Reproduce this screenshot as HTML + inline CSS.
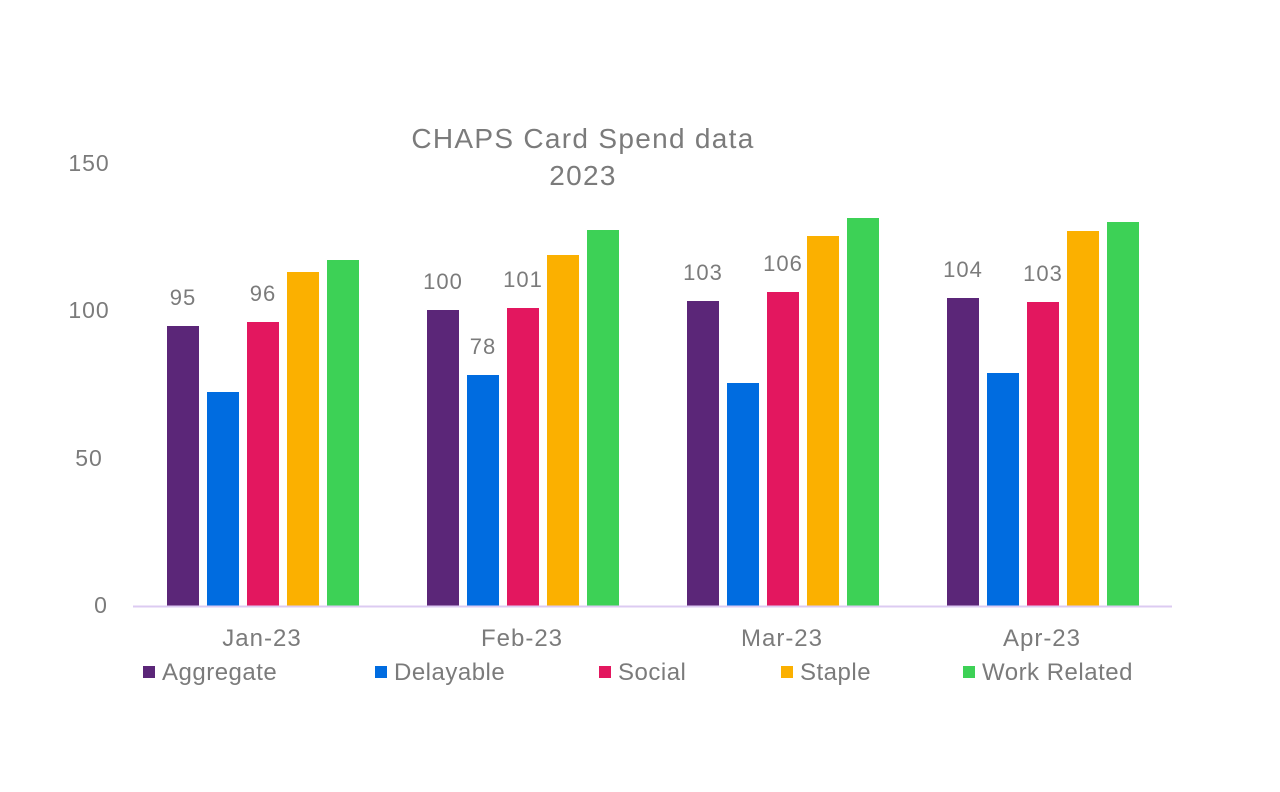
<!DOCTYPE html>
<html><head><meta charset="utf-8"><style>
body{margin:0;background:#fff;}
svg text{font-family:"Liberation Sans",sans-serif;fill:#7b7b7b;}
</style></head><body>
<svg width="1280" height="787" xmlns="http://www.w3.org/2000/svg">
<rect width="1280" height="787" fill="#fff"/>
<text x="583" y="148" font-size="28" letter-spacing="1.3" text-anchor="middle">CHAPS Card Spend data</text>
<text x="583" y="185" font-size="28" letter-spacing="1.3" text-anchor="middle">2023</text>
<g font-size="23" letter-spacing="1" text-anchor="middle">
<text x="89" y="171">150</text>
<text x="89" y="318">100</text>
<text x="89" y="466">50</text>
<text x="101" y="613">0</text>
</g>
<g>
<rect x="167" y="326" width="32" height="280" fill="#5b2678"/>
<rect x="207" y="392" width="32" height="214" fill="#006ce0"/>
<rect x="247" y="322" width="32" height="284" fill="#e3175f"/>
<rect x="287" y="272" width="32" height="334" fill="#fbb000"/>
<rect x="327" y="260" width="32" height="346" fill="#3dd156"/>
<rect x="427" y="310" width="32" height="296" fill="#5b2678"/>
<rect x="467" y="375" width="32" height="231" fill="#006ce0"/>
<rect x="507" y="308" width="32" height="298" fill="#e3175f"/>
<rect x="547" y="255" width="32" height="351" fill="#fbb000"/>
<rect x="587" y="230" width="32" height="376" fill="#3dd156"/>
<rect x="687" y="301" width="32" height="305" fill="#5b2678"/>
<rect x="727" y="383" width="32" height="223" fill="#006ce0"/>
<rect x="767" y="292" width="32" height="314" fill="#e3175f"/>
<rect x="807" y="236" width="32" height="370" fill="#fbb000"/>
<rect x="847" y="218" width="32" height="388" fill="#3dd156"/>
<rect x="947" y="298" width="32" height="308" fill="#5b2678"/>
<rect x="987" y="373" width="32" height="233" fill="#006ce0"/>
<rect x="1027" y="302" width="32" height="304" fill="#e3175f"/>
<rect x="1067" y="231" width="32" height="375" fill="#fbb000"/>
<rect x="1107" y="222" width="32" height="384" fill="#3dd156"/>
</g>
<line x1="133" y1="606.5" x2="1172" y2="606.5" stroke="#dccbf2" stroke-width="2"/>
<g font-size="22" letter-spacing="1" text-anchor="middle">
<text x="183" y="305">95</text>
<text x="263" y="301">96</text>
<text x="443" y="289">100</text>
<text x="483" y="354">78</text>
<text x="523" y="287">101</text>
<text x="703" y="280">103</text>
<text x="783" y="271">106</text>
<text x="963" y="277">104</text>
<text x="1043" y="281">103</text>
</g>
<g font-size="24" letter-spacing="1" text-anchor="middle">
<text x="262" y="646">Jan-23</text>
<text x="522" y="646">Feb-23</text>
<text x="782" y="646">Mar-23</text>
<text x="1042" y="646">Apr-23</text>
</g>
<g font-size="24" letter-spacing="0.5">
<rect x="143" y="666" width="12" height="12" fill="#5b2678"/><text x="162" y="680">Aggregate</text>
<rect x="375" y="666" width="12" height="12" fill="#006ce0"/><text x="394" y="680">Delayable</text>
<rect x="599" y="666" width="12" height="12" fill="#e3175f"/><text x="618" y="680">Social</text>
<rect x="781" y="666" width="12" height="12" fill="#fbb000"/><text x="800" y="680">Staple</text>
<rect x="963" y="666" width="12" height="12" fill="#3dd156"/><text x="982" y="680">Work Related</text>
</g>
</svg>
</body></html>
